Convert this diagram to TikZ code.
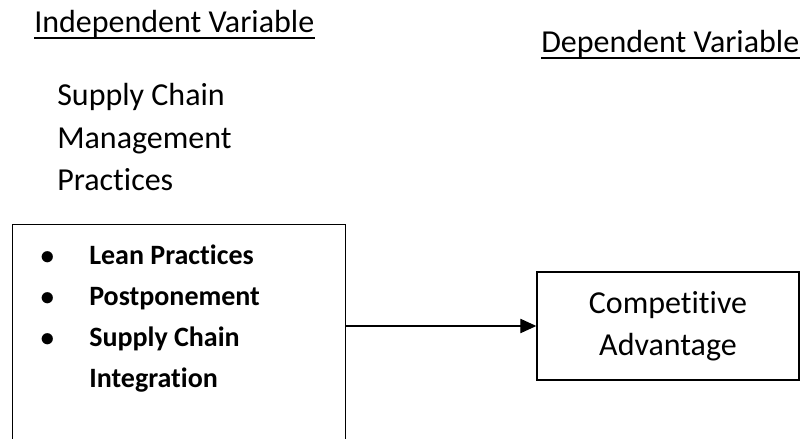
\documentclass[tikz,border=0pt]{standalone}
\usepackage{fontspec}
\setmainfont{Carlito}[Ligatures=NoCommon]
\usepackage{array}
\usepackage{tikz}
\usetikzlibrary{arrows.meta}

\newcommand{\bigtext}{\fontsize{22.76pt}{29.9pt}\selectfont}
\newcommand{\listtext}{\fontsize{19.92pt}{29.16pt}\selectfont}

\begin{document}
\begin{tikzpicture}[
        box/.style={draw, line width=1pt, inner sep=0pt},
        ulbar/.style={line width=1.4pt},
        arr/.style={line width=0.75pt, -{Triangle[length=0.4cm, width=0.36cm]}}
    ]
                    \useasboundingbox (0,0) rectangle (20.05,-10.975);
                    \clip (0,0) rectangle (20.05,-10.975);
                    \node[anchor=base west, inner sep=0pt, font=\bigtext] (ivar) at (0.85,-0.825) {Independent Variable};
                    \draw[ulbar] ([yshift=-0.125cm]ivar.base west) -- ([yshift=-0.125cm]ivar.base east);   %underline
                    \node[anchor=base west, inner sep=0pt, font=\bigtext] (dvar) at (13.525,-1.325) {Dependent Variable};
                    \draw[ulbar] ([yshift=-0.125cm]dvar.base west) -- ([yshift=-0.125cm]dvar.base east);   %underline
                    \node[anchor=base west, inner sep=0pt, font=\bigtext] (scmp) at (1.425,-2.65)
                        {\begin{tabular}[t]{@{}l@{}}Supply Chain\\Management\\Practices\end{tabular}};
                    \node[box, anchor=north west, minimum width=8.325cm, minimum height=6.5cm] (lbox) at (0.3,-5.6) {};
                    \node[anchor=base west, inner sep=0pt, font=\listtext] (items) at (0.175,-6.625)
                        {\begin{tabular}[t]{@{}w{c}{2.05cm}@{}l@{}}
                            $\bullet$ & \textbf{Lean Practices}\\
                            $\bullet$ & \textbf{Postponement}\\
                            $\bullet$ & \textbf{Supply Chain}\\
                                      & \textbf{Integration}
                        \end{tabular}};
                    \node[box, minimum width=6.55cm, minimum height=2.7cm, align=center, font=\bigtext] (cbox) at (16.7,-8.15) {Competitive\\Advantage};
                    \draw[arr] (lbox.east |- cbox.west) -- (cbox.west);   %link
                \end{tikzpicture}
\end{document}
